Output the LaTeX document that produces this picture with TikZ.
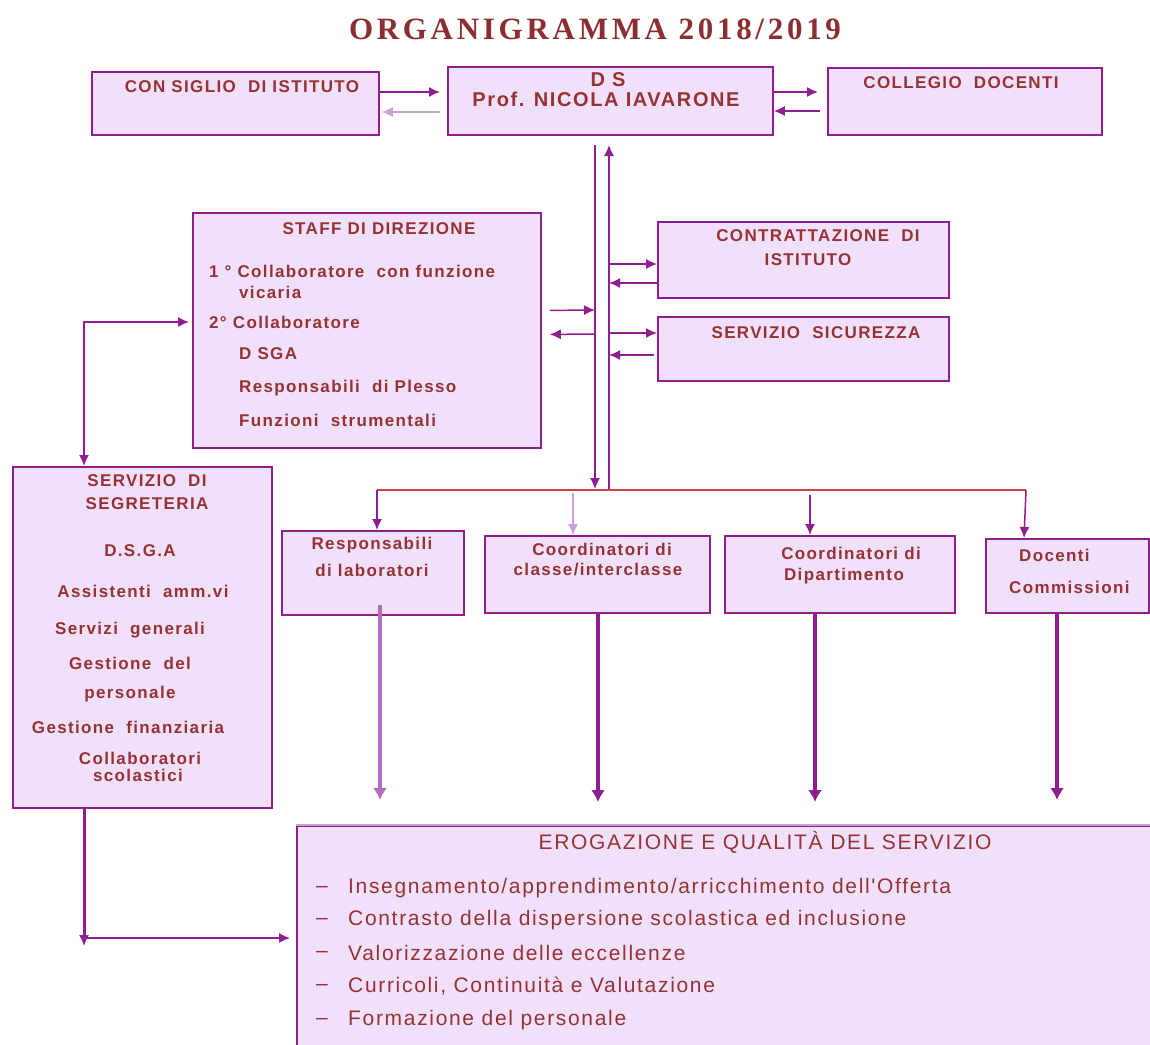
\documentclass[tikz,border=0pt]{standalone}
\usepackage{fontspec}
\setmainfont{Liberation Sans}
\newfontfamily\titlef{Liberation Serif}[LetterSpace=12]
\newfontfamily\lblf{Liberation Sans}[LetterSpace=8]
\newfontfamily\narrowf{Liberation Sans}[LetterSpace=8]
\usetikzlibrary{arrows.meta,calc}
\definecolor{boxfill}{RGB}{240,224,252}
\definecolor{boxline}{RGB}{145,30,145}
\definecolor{txt}{RGB}{150,50,50}
\definecolor{ttl}{RGB}{140,45,50}
\definecolor{redline}{RGB}{200,70,70}
\definecolor{lightp}{RGB}{205,160,215}
\begin{document}
\begin{tikzpicture}[x=1pt,y=-1pt,
  box/.style={draw=boxline, fill=boxfill, line width=1.8pt, anchor=north west, inner sep=0pt},
  lbl/.style={text=txt, font=\lblf\bfseries\fontsize{17}{19}\selectfont, inner sep=0pt},
  lblw/.style={lbl, anchor=west},
  big/.style={text=txt, font=\lblf\bfseries\fontsize{20}{22}\selectfont, inner sep=0pt},
  item/.style={text=txt, font=\narrowf\fontsize{21}{23}\selectfont, inner sep=0pt, anchor=west},
  conn/.style={draw=boxline, line width=1.5pt, -{Latex[length=11pt,width=10pt]}},
  connl/.style={conn, draw=lightp},
  thickc/.style={draw=boxline, line width=3.4pt, -{Latex[length=12pt,width=14pt]}}
]
\useasboundingbox (0,0) rectangle (1150,1044);
\fill[white] (0,0) rectangle (1150,1044);

% title
\node[text=ttl, font=\titlef\bfseries\fontsize{31}{33}\selectfont, inner sep=0pt] (title) at (595,29) {ORGANIGRAMMA 2018/2019};

% top row
\node[box, minimum width=287pt, minimum height=63pt] (ci) at (91,71) {};
\node[lbl] (ciT) at (242,87) {CON SIGLIO\ \ DI ISTITUTO};
\node[box, minimum width=325pt, minimum height=68pt] (ds) at (447,66) {};
\node[big] (dsT1) at (608,80) {D S};
\node[big] (dsT2) at (606,99) {Prof. NICOLA IAVARONE};
\node[box, minimum width=274pt, minimum height=67pt] (cd) at (827,67) {};
\node[lbl] (cdT) at (961,83) {COLLEGIO\ \ DOCENTI};

\draw[conn] ($(ci.north east)+(0,21)$) -- ($(ds.north west)+(-7,26)$);
\draw[connl] ($(ds.north west)+(-7,46)$) -- ($(ci.north east)+(2,41)$);
\draw[conn] ($(ds.north east)+(0,26)$) -- ($(cd.north west)+(-9,25)$);
\draw[conn] ($(cd.north west)+(-7,44)$) -- ($(ds.north east)+(0,45)$);

% bus
\coordinate (bLt) at (595,145);
\coordinate (bLb) at (595,489);
\coordinate (bRt) at (609,145);
\coordinate (bRb) at (609,490);
\draw[conn] (bLt) -- (bLb);
\draw[conn] (bRb) -- (bRt);

% staff
\node[box, minimum width=348pt, minimum height=235pt] (staff) at (192,212) {};
\node[lbl] (stT) at (379,229) {STAFF DI DIREZIONE};
\node[lblw] (st1) at (209,271) {1 ° Collaboratore\ \ con funzione};
\node[lblw] (st2) at (239,292) {vicaria};
\node[lblw] (st3) at (209,322) {2° Collaboratore};
\node[lblw] (st4) at (239,354) {D SGA};
\node[lblw] (st5) at (239,388) {Responsabili\ \ di Plesso};
\node[lblw] (st6) at (239,420) {Funzioni\ \ strumentali};
\draw[conn] ($(staff.east)+(8,-20)$) -- (bLt |- 0,310);
\draw[conn] (bLt |- 0,334) -- ($(staff.east)+(8,4)$);

% contrattazione / sicurezza
\node[box, minimum width=291pt, minimum height=76pt] (ct) at (657,221) {};
\node[lbl] (ctT1) at (818,236) {CONTRATTAZIONE\ \ DI};
\node[lbl] (ctT2) at (808,260) {ISTITUTO};
\node[box, minimum width=291pt, minimum height=64pt] (ss) at (657,316) {};
\node[lbl] (ssT) at (816,333) {SERVIZIO\ \ SICUREZZA};
\draw[conn] (bRt |- 0,264) -- (ct.west |- 0,264);
\draw[conn] (ct.west |- 0,283) -- (bRt |- 0,283);
\draw[conn] (bRt |- 0,333) -- (ss.west |- 0,333);
\draw[conn] ($(ss.west |- 0,355)+(-3,0)$) -- (bRt |- 0,355);

% horizontal distribution line
\coordinate (hL) at (377,490);
\coordinate (hR) at (1026,490);
\draw[draw=redline, line width=1.2pt] (hL) -- (hR);

% second row
\node[box, minimum width=182pt, minimum height=84pt] (rl) at (281,530) {};
\node[lbl] (rlT1) at (372,545) {Responsabili};
\node[lbl] (rlT2) at (372,570) {di laboratori};
\node[box, minimum width=225pt, minimum height=77pt] (cc) at (484,535) {};
\node[lbl] (ccT1) at (602,549) {Coordinatori di};
\node[lbl] (ccT2) at (598,570) {classe/interclasse};
\node[box, minimum width=230pt, minimum height=77pt] (cdp) at (724,535) {};
\node[lbl] (cdpT1) at (851,553) {Coordinatori di};
\node[lbl] (cdpT2) at (844,576) {Dipartimento};
\node[box, minimum width=163pt, minimum height=74pt] (dc) at (985,538) {};
\node[lblw] (dcT1) at (1019,555) {Docenti};
\node[lblw] (dcT2) at (1009,587) {Commissioni};

\draw[conn] (hL) -- (rl.north -| hL);
\draw[connl] (cc.north -| 573,0) ++(0,-42) -- (cc.north -| 573,0);
\draw[conn] (810,495) -- (cdp.north -| 810,0);
\draw[conn] (hR) -- (dc.north -| 1024,0);

% segreteria
\node[box, minimum width=259pt, minimum height=341pt] (seg) at (12,466) {};
\node[lbl] (sgT1) at (147,481) {SERVIZIO\ \ DI};
\node[lbl] (sgT2) at (147,504) {SEGRETERIA};
\node[lbl] (sg1) at (140,551) {D.S.G.A};
\node[lbl] (sg2) at (143,591) {Assistenti\ \ amm.vi};
\node[lbl] (sg3) at (130,630) {Servizi\ \ generali};
\node[lbl] (sg4) at (130,663) {Gestione\ \ del};
\node[lbl] (sg5) at (130,694) {personale};
\node[lbl] (sg6) at (128,727) {Gestione\ \ finanziaria};
\node[lbl] (sg7) at (140,758) {Collaboratori};
\node[lbl] (sg8) at (138,775) {scolastici};

\coordinate (k1) at (84,322);
\draw[conn, {Latex[length=11pt,width=10pt]}-{Latex[length=11pt,width=10pt]}] ($(staff.west |- k1)+(-3,0)$) -- (k1) -- (k1 |- seg.north);

% erogazione
\node[box, minimum width=854pt, minimum height=230pt] (ero) at (296,825) {};
\draw[draw=lightp, line width=1.8pt] (ero.north west) -- (ero.north east);
\node[text=txt, font=\narrowf\fontsize{21}{23}\selectfont, inner sep=0pt] (eroT) at (765,842) {EROGAZIONE E QUALITÀ DEL SERVIZIO};
\node[item] (e1d) at (316,889) {–};
\node[item] (e1) at (348,888) {Insegnamento/apprendimento/arricchimento dell'Offerta};
\node[item] (e2d) at (316,921) {–};
\node[item] (e2) at (348,920) {Contrasto della dispersione scolastica ed inclusione};
\node[item] (e3d) at (316,954) {–};
\node[item] (e3) at (348,953) {Valorizzazione delle eccellenze};
\node[item] (e4d) at (316,987) {–};
\node[item] (e4) at (348,986) {Curricoli, Continuità e Valutazione};
\node[item] (e5d) at (316,1021) {–};
\node[item] (e5) at (348,1020) {Formazione del personale};

% bottom arrows into erogazione
\draw[thickc, draw=lightp!60!boxline] (380,605) -- (380,800);
\draw[thickc] (cc.south -| 598,0) -- (598,802);
\draw[thickc] (cdp.south -| 815,0) -- (815,802);
\draw[thickc] (dc.south -| 1057,0) -- (1057,800);

\coordinate (k2) at (84,938);
\draw[draw=boxline, line width=3pt] (seg.south -| k2) -- (k2);
\draw[conn] (k2) -- (84,946);
\draw[conn] (k2) -- ($(ero.west |- k2)+(-6,0)$);
\end{tikzpicture}
\end{document}
